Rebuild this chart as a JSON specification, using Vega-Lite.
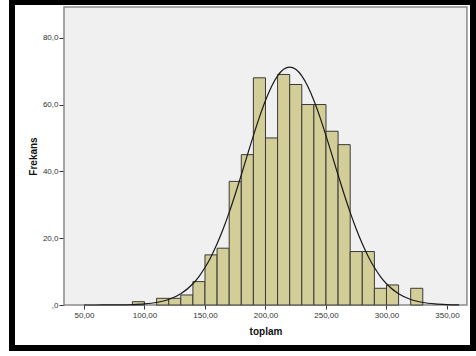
{
  "$schema": "https://vega.github.io/schema/vega-lite/v6.json",
  "autosize": {"type": "none"},
  "width": 461,
  "height": 346,
  "padding": {"left": 12, "top": 2, "right": 3, "bottom": 8},
  "background": "white",
  "config": {
    "view": {"fill": "white", "stroke": "black", "strokeWidth": 6},
    "axis": {"grid": false, "domain": false}
  },
  "datasets": {
    "bins": [
      {"bin_start": 90, "bin_end": 100, "count": 1},
      {"bin_start": 110, "bin_end": 120, "count": 2},
      {"bin_start": 120, "bin_end": 130, "count": 2},
      {"bin_start": 130, "bin_end": 140, "count": 3},
      {"bin_start": 140, "bin_end": 150, "count": 7},
      {"bin_start": 150, "bin_end": 160, "count": 15},
      {"bin_start": 160, "bin_end": 170, "count": 17},
      {"bin_start": 170, "bin_end": 180, "count": 37},
      {"bin_start": 180, "bin_end": 190, "count": 45},
      {"bin_start": 190, "bin_end": 200, "count": 68},
      {"bin_start": 200, "bin_end": 210, "count": 50},
      {"bin_start": 210, "bin_end": 220, "count": 69},
      {"bin_start": 220, "bin_end": 230, "count": 66},
      {"bin_start": 230, "bin_end": 240, "count": 60},
      {"bin_start": 240, "bin_end": 250, "count": 60},
      {"bin_start": 250, "bin_end": 260, "count": 52},
      {"bin_start": 260, "bin_end": 270, "count": 48},
      {"bin_start": 270, "bin_end": 280, "count": 16},
      {"bin_start": 280, "bin_end": 290, "count": 16},
      {"bin_start": 290, "bin_end": 300, "count": 5},
      {"bin_start": 300, "bin_end": 310, "count": 6},
      {"bin_start": 320, "bin_end": 330, "count": 5}
    ],
    "curve": [
      {"toplam": 50, "frekans": 0.0},
      {"toplam": 60, "frekans": 0.005},
      {"toplam": 70, "frekans": 0.015},
      {"toplam": 80, "frekans": 0.044},
      {"toplam": 90, "frekans": 0.121},
      {"toplam": 100, "frekans": 0.311},
      {"toplam": 110, "frekans": 0.741},
      {"toplam": 120, "frekans": 1.635},
      {"toplam": 130, "frekans": 3.349},
      {"toplam": 140, "frekans": 6.362},
      {"toplam": 145, "frekans": 8.52},
      {"toplam": 150, "frekans": 11.21},
      {"toplam": 155, "frekans": 14.45},
      {"toplam": 160, "frekans": 18.31},
      {"toplam": 165, "frekans": 22.73},
      {"toplam": 170, "frekans": 27.72},
      {"toplam": 175, "frekans": 33.16},
      {"toplam": 180, "frekans": 38.92},
      {"toplam": 185, "frekans": 44.84},
      {"toplam": 190, "frekans": 50.7},
      {"toplam": 195, "frekans": 56.24},
      {"toplam": 200, "frekans": 61.22},
      {"toplam": 205, "frekans": 65.4},
      {"toplam": 210, "frekans": 68.57},
      {"toplam": 215, "frekans": 70.53},
      {"toplam": 220, "frekans": 71.2},
      {"toplam": 225, "frekans": 70.53},
      {"toplam": 230, "frekans": 68.57},
      {"toplam": 235, "frekans": 65.4},
      {"toplam": 240, "frekans": 61.22},
      {"toplam": 245, "frekans": 56.24},
      {"toplam": 250, "frekans": 50.7},
      {"toplam": 255, "frekans": 44.84},
      {"toplam": 260, "frekans": 38.92},
      {"toplam": 265, "frekans": 33.16},
      {"toplam": 270, "frekans": 27.72},
      {"toplam": 275, "frekans": 22.73},
      {"toplam": 280, "frekans": 18.31},
      {"toplam": 285, "frekans": 14.45},
      {"toplam": 290, "frekans": 11.21},
      {"toplam": 295, "frekans": 8.52},
      {"toplam": 300, "frekans": 6.362},
      {"toplam": 310, "frekans": 3.349},
      {"toplam": 320, "frekans": 1.635},
      {"toplam": 330, "frekans": 0.741},
      {"toplam": 340, "frekans": 0.311},
      {"toplam": 350, "frekans": 0.121},
      {"toplam": 360, "frekans": 0.044}
    ],
    "frame": [{"x0": 33.47, "x1": 366.5, "y0": 0, "y1": 89.2}]
  },
  "layer": [
    {
      "data": {"name": "frame"},
      "mark": {"type": "rect", "fill": "#f0f0f0", "stroke": "#8a8a8a", "strokeWidth": 1.5},
      "encoding": {
        "x": {
          "field": "x0", "type": "quantitative",
          "scale": {"domain": [-9.5, 371.5], "nice": false, "zero": false},
          "axis": {
            "values": [50, 100, 150, 200, 250, 300, 350],
            "labelExpr": "replace(format(datum.value, '.2f'), '.', ',')",
            "tickSize": 4, "tickColor": "#333333", "tickWidth": 1,
            "labelFont": "Liberation Sans", "labelFontSize": 8, "labelColor": "#333333",
            "labelPadding": 2, "labelOverlap": false,
            "offset": -43,
            "title": "toplam", "titleFont": "Liberation Sans", "titleFontSize": 10,
            "titleFontWeight": "bold", "titleColor": "#111111",
            "titleX": 253.5, "titleY": 29.5, "titleBaseline": "alphabetic", "titleAlign": "center"
          }
        },
        "x2": {"field": "x1"},
        "y": {
          "field": "y0", "type": "quantitative",
          "scale": {"domain": [-12.87, 90.69], "nice": false, "zero": false},
          "axis": {
            "values": [0, 20, 40, 60, 80],
            "labelExpr": "datum.value == 0 ? ',0' : replace(format(datum.value, '.1f'), '.', ',')",
            "tickSize": 5, "tickColor": "#333333", "tickWidth": 1,
            "labelFont": "Liberation Sans", "labelFontSize": 8, "labelColor": "#333333",
            "labelPadding": 1, "labelOverlap": false,
            "offset": -52,
            "title": "Frekans", "titleFont": "Liberation Sans", "titleFontSize": 10,
            "titleFontWeight": "bold", "titleColor": "#111111",
            "titleX": -28, "titleY": 154, "titleBaseline": "alphabetic", "titleAlign": "center", "titleAngle": -90
          }
        },
        "y2": {"field": "y1"}
      }
    },
    {
      "data": {"name": "bins"},
      "mark": {"type": "rect", "fill": "#d3ce97", "stroke": "#3a3a3a", "strokeWidth": 1},
      "encoding": {
        "x": {"field": "bin_start", "type": "quantitative", "title": "toplam"},
        "x2": {"field": "bin_end"},
        "y": {"field": "count", "type": "quantitative", "title": "Frekans"},
        "y2": {"datum": 0}
      }
    },
    {
      "data": {"name": "curve"},
      "mark": {"type": "line", "color": "#1a1a1a", "strokeWidth": 1.2, "interpolate": "monotone"},
      "encoding": {
        "x": {"field": "toplam", "type": "quantitative", "title": "toplam"},
        "y": {"field": "frekans", "type": "quantitative", "title": "Frekans"}
      }
    }
  ]
}
